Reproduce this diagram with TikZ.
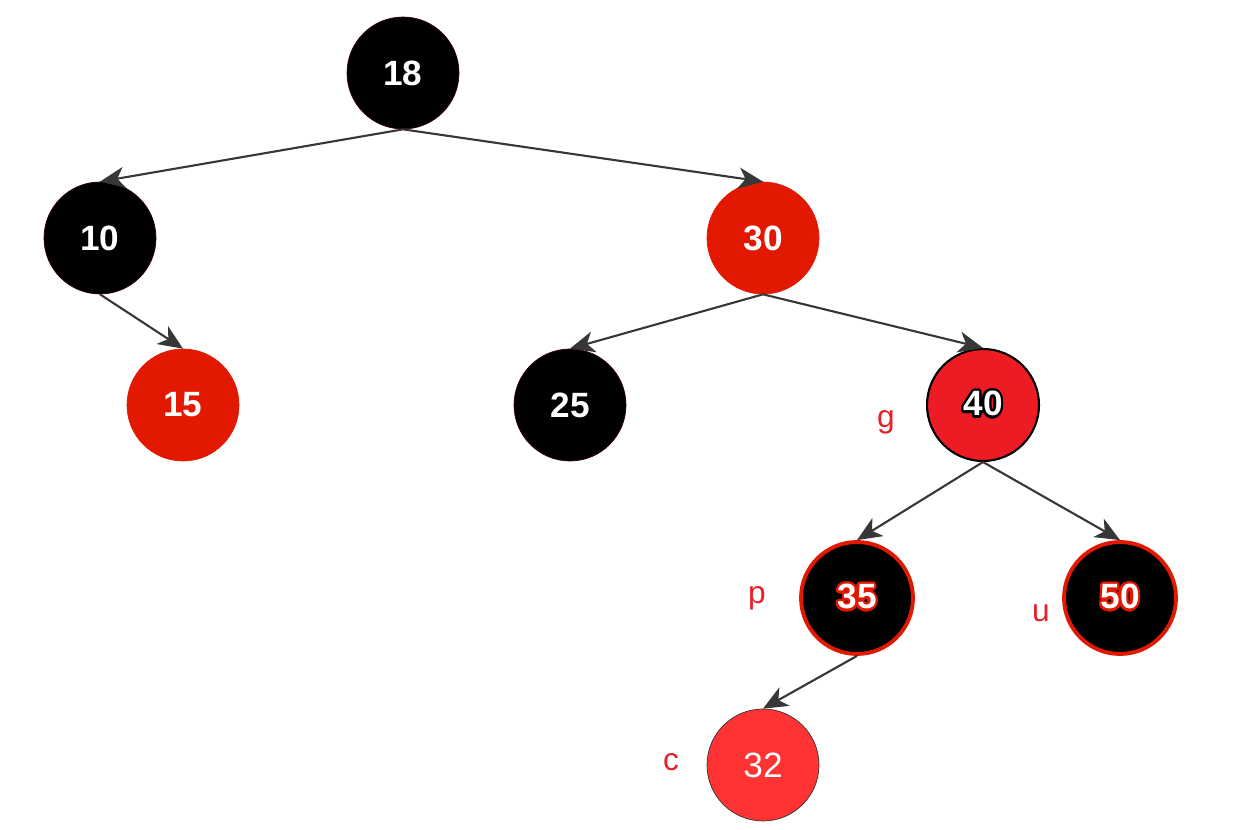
\documentclass[tikz,border=0pt]{standalone}
\usepackage{fontspec}
\setmainfont{Liberation Sans}
\usepackage{contour}
\contourlength{1.3pt}
\contournumber{24}
\usetikzlibrary{arrows.meta}
\definecolor{nodered}{RGB}{226,24,0}
\definecolor{gred}{RGB}{237,28,36}
\definecolor{cred}{RGB}{255,51,51}
\definecolor{lblred}{RGB}{232,32,42}
\definecolor{edgegray}{RGB}{55,55,55}

\begin{document}
\begin{tikzpicture}[x=0.02cm,y=-0.02cm,
    key/.style={circle,minimum size=2.24cm,inner sep=0pt,text=white,font=\fontsize{20}{24}\selectfont\bfseries},
    blk/.style={key,fill=black,draw=black!80!red},
    redk/.style={key,fill=nodered,draw=nodered},
    blkring/.style={key,fill=black,draw=nodered,line width=2.2pt},
    tag/.style={text=lblred,font=\fontsize{18}{22}\selectfont},
    edge/.style={edgegray,line width=1.2pt,-{Stealth[length=14pt,width=12pt,inset=4pt]}}]
  \useasboundingbox (0,0) rectangle (1244,830);
  \node[blk] (n18) at (403,73) {18};
  \node[blk] (n10) at (100,238) {10};
  \node[redk] (n30) at (763,238) {30};
  \node[redk] (n15) at (183,405) {15};
  \node[blk] (n25) at (570,405) {25};
  \node[key,fill=gred,draw=black,line width=1.2pt] (n40) at (983,405) {\contour{black}{40}};
  \node[blkring] (n35) at (857,598) {\contour{nodered}{35}};
  \node[blkring] (n50) at (1120,598) {\contour{nodered}{50}};
  \node[key,fill=cred,draw=black!80,font=\fontsize{20}{24}\selectfont] (n32) at (763,765) {32};
  % colour tags
  \node[tag] (tg) at (886,422) {g};
  \node[tag] (tp) at (757,598) {p};
  \node[tag] (tu) at (1041,613) {u};
  \node[tag] (tc) at (671,762) {c};
  % edges
  \draw[edge] (n18.south) -- (n10.north);
  \draw[edge] (n18.south) -- (n30.north);
  \draw[edge] (n10.south) -- (n15.north);
  \draw[edge] (n30.south) -- (n25.north);
  \draw[edge] (n30.south) -- (n40.north);
  \draw[edge] (n40.south) -- (n35.north);
  \draw[edge] (n40.south) -- (n50.north);
  \draw[edge] (n35.south) -- (n32.north);
\end{tikzpicture}
\end{document}
